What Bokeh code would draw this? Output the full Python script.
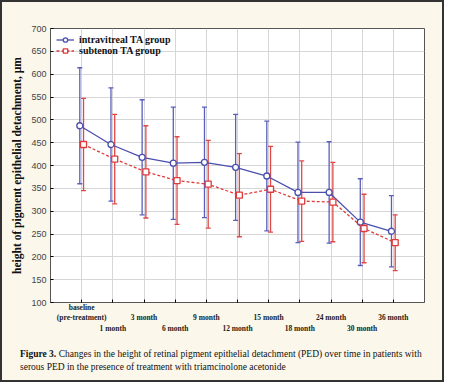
import numpy as np
from bokeh.plotting import figure
from bokeh.layouts import column
from bokeh.models import (ColumnDataSource, Whisker, TeeHead, Legend, LegendItem,
                          FixedTicker, Div)
from bokeh.embed import file_html
from bokeh.resources import INLINE

# ---- data ----
categories = ["baseline\n(pre-treatment)", "\n\n1 month", "\n3 month", "\n\n6 month", "\n9 month",
              "\n\n12 month", "\n15 month", "\n\n18 month", "\n24 month", "\n\n30 month", "\n36 month"]
intravitreal_mean = [487, 446, 418, 405, 407, 396, 377, 341, 341, 276, 256]
intravitreal_err = [127, 124, 126, 123, 121, 116, 120, 110, 111, 95, 78]
subtenon_mean = [446, 414, 386, 367, 359, 335, 348, 322, 320, 262, 231]
subtenon_err = [101, 98, 101, 96, 96, 91, 94, 88, 87, 75, 61]
y_ticks = [100, 150, 200, 250, 300, 350, 400, 450, 500, 550, 600, 650, 700]

BLUE = "#4b50ad"
BLUE_ERR = "#5a5fbb"
RED = "#de3b3b"
RED_ERR = "#e04848"
CREAM = "#fbf7ea"

idx = np.arange(len(categories))
offset = 0.06

src_b = ColumnDataSource(dict(
    x=idx - offset, y=intravitreal_mean,
    upper=np.array(intravitreal_mean) + np.array(intravitreal_err),
    lower=np.array(intravitreal_mean) - np.array(intravitreal_err)))
src_r = ColumnDataSource(dict(
    x=idx + offset, y=subtenon_mean,
    upper=np.array(subtenon_mean) + np.array(subtenon_err),
    lower=np.array(subtenon_mean) - np.array(subtenon_err)))

p = figure(width=430, height=334, x_range=(-1, len(categories)), y_range=(100, 700),
           output_backend="svg", toolbar_location=None,
           min_border_left=48, min_border_right=8, min_border_top=26, min_border_bottom=34,
           background_fill_color="white", border_fill_color=CREAM)
p.outline_line_color = "#555555"
p.outline_line_width = 1

# grid
xt = FixedTicker(ticks=list(idx))
yt = FixedTicker(ticks=y_ticks)
p.xaxis.ticker = xt
p.yaxis.ticker = yt
p.xgrid.ticker = xt
p.ygrid.ticker = yt
p.grid.grid_line_color = "#d6d6d6"
p.grid.grid_line_width = 1

# x axis
p.xaxis.major_label_overrides = {int(i): c for i, c in zip(idx, categories)}
p.xaxis.major_label_text_font = "Liberation Serif"
p.xaxis.major_label_text_font_style = "bold"
p.xaxis.major_label_text_font_size = "7.5px"
p.xaxis.major_label_text_color = "#222222"
p.xaxis.major_label_standoff = 0
p.xaxis.major_tick_in = 3
p.xaxis.major_tick_out = 0
p.xaxis.minor_tick_line_color = None
p.xaxis.axis_line_color = "#555555"

# y axis
p.yaxis.major_label_text_font = "Liberation Sans"
p.yaxis.major_label_text_font_size = "9px"
p.yaxis.major_label_text_color = "#444444"
p.yaxis.major_label_standoff = 4
p.yaxis.major_tick_in = 3
p.yaxis.major_tick_out = 0
p.yaxis.minor_tick_line_color = None
p.yaxis.axis_line_color = "#555555"
p.yaxis.axis_label = "height of pigment epithelial detachment, µm"
p.yaxis.axis_label_text_font = "Liberation Serif"
p.yaxis.axis_label_text_font_style = "bold"
p.yaxis.axis_label_text_font_size = "11.5px"
p.yaxis.axis_label_text_color = "#111111"
p.yaxis.axis_label_standoff = 5

# error bars
wb = Whisker(source=src_b, base="x", upper="upper", lower="lower", dimension="height",
             line_color=BLUE_ERR, line_width=1.3,
             upper_head=TeeHead(size=5, line_color=BLUE_ERR, line_width=1.3),
             lower_head=TeeHead(size=5, line_color=BLUE_ERR, line_width=1.3))
wr = Whisker(source=src_r, base="x", upper="upper", lower="lower", dimension="height",
             line_color=RED_ERR, line_width=1.3,
             upper_head=TeeHead(size=5, line_color=RED_ERR, line_width=1.3),
             lower_head=TeeHead(size=5, line_color=RED_ERR, line_width=1.3))
p.add_layout(wb)
p.add_layout(wr)

# lines & markers
lb = p.line("x", "y", source=src_b, line_color=BLUE, line_width=1.3)
mb = p.scatter("x", "y", source=src_b, marker="circle", size=6, line_color=BLUE,
               fill_color="white", line_width=1.3)
lr = p.line("x", "y", source=src_r, line_color=RED, line_width=1.3, line_dash="3 2")
mr = p.scatter("x", "y", source=src_r, marker="square", size=6, line_color=RED,
               fill_color="white", line_width=1.3)

legend = Legend(items=[LegendItem(label="intravitreal TA group", renderers=[lb, mb]),
                       LegendItem(label="subtenon TA group", renderers=[lr, mr])],
                location="top_left", margin=6, padding=0, spacing=0,
                glyph_width=18, glyph_height=11, label_height=11, label_standoff=5,
                label_text_font="Liberation Serif", label_text_font_style="bold",
                label_text_font_size="10px", label_text_color="#111111",
                background_fill_alpha=0, border_line_color=None)
p.add_layout(legend)

# caption
caption = Div(
    text=("<b>Figure 3.</b> Changes in the height of retinal pigment epithelial detachment "
          "(PED) over time in patients with<br>serous PED in the presence of treatment with "
          "triamcinolone acetonide"),
    width=430, height=34,
    styles={"font-family": "'Liberation Serif', serif", "font-size": "9.5px",
            "line-height": "12.5px", "color": "#111111", "white-space": "nowrap",
            "padding": "7px 0 0 13px", "box-sizing": "border-box",
            "background-color": CREAM})

layout = column(p, caption, spacing=0,
                styles={"border": "2px solid #333333", "background-color": CREAM})

open("out.html", "w").write(file_html(layout, INLINE))
